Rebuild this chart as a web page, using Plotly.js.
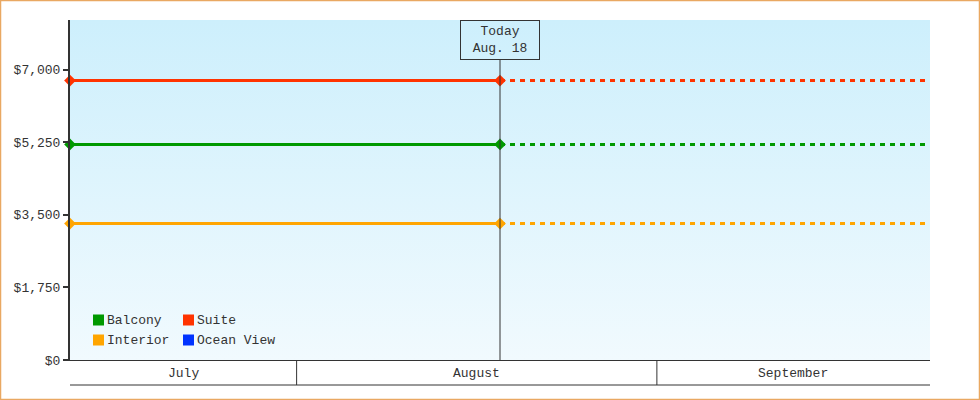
<!DOCTYPE html>
<html>
<head>
<meta charset="utf-8">
<script src="https://cdn.plot.ly/plotly-3.0.1.min.js"></script>
<style>
  html, body { margin: 0; padding: 0; background: #fff; }
  #chart { width: 980px; height: 400px; }
</style>
</head>
<body>
<div id="chart"></div>
<script>
// cabin categories and their colours
var cabins = ['Balcony', 'Suite', 'Interior', 'Ocean View'];
var cabinColors = ['#009900', '#ff3300', '#ffa500', '#0033ff'];
// price per cabin (Ocean View has no price)
var prices = [5200, 6740, 3290, null];

// dates: start of the window, today, end of the window
var startDate = '2023-07-12 12:00';
var todayDate = '2023-08-18 12:00';
var endDate = '2023-09-24 12:00';
var todayLabel = ['Today', 'Aug. 18'];

// month bands on the bottom axis
var monthNames = ['July', 'August', 'September'];
var monthStarts = ['2023-08-01', '2023-09-01'];

var yTicks = [0, 1750, 3500, 5250, 7000];
var yTickText = ['$0', '$1,750', '$3,500', '$5,250', '$7,000'];

var font = { family: 'Liberation Mono, DejaVu Sans Mono, monospace', size: 13, color: '#333' };
var ink = '#333';

var traces = [];
cabins.forEach(function (name, i) {
  var v = prices[i];
  if (v === null) return;
  // solid part up to today
  traces.push({
    x: [startDate, todayDate],
    y: [v, v],
    type: 'scatter',
    mode: 'lines+markers',
    name: name,
    cliponaxis: false,
    line: { color: cabinColors[i], width: 3 },
    marker: { color: cabinColors[i], size: 9, symbol: 'diamond' },
    hoverinfo: 'skip'
  });
  // dotted projection after today
  traces.push({
    x: [todayDate, endDate],
    y: [v, v],
    type: 'scatter',
    mode: 'lines',
    name: name,
    line: { color: cabinColors[i], width: 3, dash: '5px,5px' },
    hoverinfo: 'skip'
  });
});

var t0 = new Date(startDate).getTime();
var t1 = new Date(endDate).getTime();
var bounds = [t0].concat(monthStarts.map(function (d) { return new Date(d).getTime(); }), [t1]);

// plot area spans 70..930 x 20..360 px
var W = 860, H = 340;
function px(p) { return (p - 70) / W; }
function py(p) { return (360 - p) / H; }

var shapes = [
  // outer orange frame
  { type: 'rect', xref: 'paper', yref: 'paper', x0: px(0.5), x1: px(979.5), y0: py(0.5), y1: py(399.5),
    line: { color: '#e9a862', width: 1.5 }, layer: 'below' },
  // bottom of month strip
  { type: 'line', xref: 'paper', yref: 'paper', x0: 0, x1: 1, y0: py(385), y1: py(385),
    line: { color: ink, width: 1 } },
  // today line
  { type: 'line', xref: 'x', yref: 'paper', x0: todayDate, x1: todayDate, y0: 0, y1: py(60),
    line: { color: ink, width: 1 } }
];
monthStarts.forEach(function (d) {
  shapes.push({ type: 'line', xref: 'x', yref: 'paper', x0: d, x1: d, y0: 0, y1: py(385),
    line: { color: ink, width: 1 } });
});

var annotations = monthNames.map(function (m, i) {
  var mid = new Date((bounds[i] + bounds[i + 1]) / 2);
  return { x: mid.toISOString(), xref: 'x', y: py(373), yref: 'paper', text: m,
    showarrow: false, font: font, xanchor: 'center', yanchor: 'middle' };
});
annotations.push({
  x: todayDate, xref: 'x', y: 1, yref: 'paper', yanchor: 'top', xanchor: 'center',
  text: todayLabel.join('<br>'), showarrow: false, font: font,
  bordercolor: ink, borderwidth: 1, borderpad: 3, width: 72, height: 32
});

// legend: two columns, two rows, square swatch + label
cabins.forEach(function (name, i) {
  var col = i % 2, row = Math.floor(i / 2);
  var sx = 93 + col * 90, cy = 320 + row * 20;
  shapes.push({ type: 'rect', xref: 'paper', yref: 'paper',
    x0: px(sx), x1: px(sx + 11), y0: py(cy + 5.5), y1: py(cy - 5.5),
    fillcolor: cabinColors[i], line: { width: 0 } });
  annotations.push({ x: px(sx + 12), xref: 'paper', y: py(cy), yref: 'paper',
    text: name, showarrow: false, font: font, xanchor: 'left', yanchor: 'middle' });
});

var gradient = 'data:image/svg+xml;charset=utf-8,' + encodeURIComponent(
  '<svg xmlns="http://www.w3.org/2000/svg" width="10" height="100" preserveAspectRatio="none">' +
  '<defs><linearGradient id="g" x1="0" y1="0" x2="0" y2="1">' +
  '<stop offset="0" stop-color="#cdeffc"/><stop offset="1" stop-color="#f1fafe"/>' +
  '</linearGradient></defs><rect width="10" height="100" fill="url(#g)"/></svg>');

var layout = {
  width: 980,
  height: 400,
  margin: { l: 70, r: 50, t: 20, b: 40 },
  paper_bgcolor: '#fff',
  plot_bgcolor: 'rgba(0,0,0,0)',
  font: font,
  showlegend: false,
  xaxis: {
    type: 'date',
    range: [startDate, endDate],
    showticklabels: false,
    ticks: '',
    showgrid: false,
    zeroline: false,
    showline: true,
    linecolor: ink,
    linewidth: 1,
    fixedrange: true
  },
  yaxis: {
    range: [0, 8200],
    tickmode: 'array',
    tickvals: yTicks,
    ticktext: yTickText,
    ticks: 'outside',
    ticklen: 5,
    tickwidth: 2,
    tickcolor: ink,
    showgrid: false,
    zeroline: false,
    showline: true,
    linecolor: ink,
    linewidth: 2,
    fixedrange: true
  },
  images: [{
    source: gradient, xref: 'paper', yref: 'paper', x: 0, y: 1, sizex: 1, sizey: 1,
    sizing: 'stretch', layer: 'below', xanchor: 'left', yanchor: 'top'
  }],
  shapes: shapes,
  annotations: annotations
};

Plotly.newPlot('chart', traces, layout, { displayModeBar: false, staticPlot: true });
</script>
</body>
</html>
